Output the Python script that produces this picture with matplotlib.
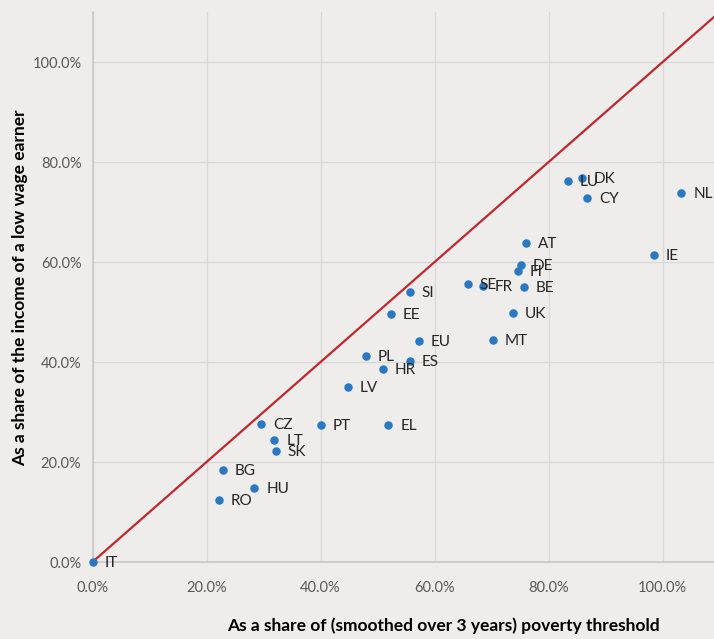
import matplotlib.pyplot as plt
from matplotlib.ticker import PercentFormatter

plt.rcParams['font.family'] = ['Lato', 'DejaVu Sans']

# country codes and values (in %)
countries = ['IT', 'RO', 'HU', 'BG', 'SK', 'LT', 'CZ', 'PT', 'EL', 'LV',
             'HR', 'PL', 'ES', 'EU', 'EE', 'SI', 'MT', 'UK', 'SE', 'FR',
             'BE', 'FI', 'DE', 'AT', 'IE', 'LU', 'DK', 'CY', 'NL']
poverty_share = [0.0, 22.1, 28.4, 22.8, 32.2, 31.9, 29.6, 40.0, 51.9, 44.8,
                 51.0, 47.9, 55.6, 57.3, 52.4, 55.7, 70.2, 73.7, 65.8, 68.5,
                 75.6, 74.6, 75.1, 76.1, 98.4, 83.4, 85.8, 86.8, 103.3]
wage_share = [0.0, 12.5, 14.9, 18.5, 22.2, 24.4, 27.7, 27.5, 27.4, 35.1,
              38.7, 41.3, 40.3, 44.2, 49.7, 54.1, 44.5, 49.8, 55.7, 55.3,
              55.1, 58.2, 59.4, 63.8, 61.4, 76.2, 76.8, 72.8, 73.8]
ticks = [0, 20, 40, 60, 80, 100]

bg = '#efedeb'
fig = plt.figure(figsize=(7.14, 6.39), dpi=100, facecolor=bg)
ax = fig.add_axes([92.5 / 714, 77 / 639, (714 - 92.5) / 714, 550 / 639])
ax.set_facecolor(bg)

ax.set_xlim(0, 109)
ax.set_ylim(0, 110)
ax.set_xticks(ticks)
ax.set_yticks(ticks)
ax.xaxis.set_major_formatter(PercentFormatter(decimals=1))
ax.yaxis.set_major_formatter(PercentFormatter(decimals=1))
ax.tick_params(length=0, labelsize=10.5, labelcolor='#595959')
ax.tick_params(axis='x', pad=14)
ax.tick_params(axis='y', pad=8)
ax.grid(True, color='#d9d9d9', linewidth=1)
ax.set_axisbelow(True)
for s in ['top', 'right']:
    ax.spines[s].set_visible(False)
for s in ['left', 'bottom']:
    ax.spines[s].set_color('#c8c8c8')
    ax.spines[s].set_linewidth(1.2)

# 45 degree line
ax.plot([0, 110], [0, 110], color='#c0272d', linewidth=1.6, zorder=2)

ax.scatter(poverty_share, wage_share, s=26, color='#2a78c2', zorder=3,
           clip_on=False)
for c, x, y in zip(countries, poverty_share, wage_share):
    ax.annotate(c, (x, y), xytext=(8.5, -1), textcoords='offset points',
                va='center', ha='left', fontsize=11, color='#262626')

fig.text(443 / 714, 1 - 626 / 639,
         'As a share of (smoothed over 3 years) poverty threshold',
         ha='center', va='center', fontsize=12.5, fontweight='bold')
fig.text(20 / 714, 1 - 288 / 639,
         'As a share of the income of a low wage earner',
         ha='center', va='center', rotation=90, fontsize=12.5,
         fontweight='bold')

fig.savefig('out.png', dpi=100, facecolor=bg)
